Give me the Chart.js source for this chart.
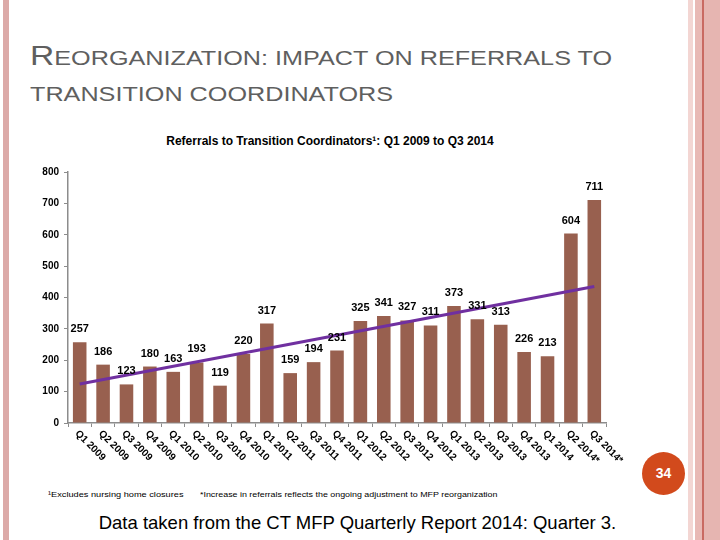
<!DOCTYPE html>
<html>
<head>
<meta charset="utf-8">
<script src="https://cdn.jsdelivr.net/npm/chart.js@4.4.1/dist/chart.umd.min.js"></script>
<style>
  html, body { margin: 0; padding: 0; background: #fff; }
  body { width: 720px; height: 540px; position: relative; overflow: hidden; font-family: "Liberation Sans", Arial, sans-serif; }
  .stripe { position: absolute; top: 0; height: 540px; }
  .tline { position: absolute; left: 30px; color: #5f5f5f; font-size: 21px; white-space: nowrap; transform-origin: left bottom; transform: scaleX(1.2); }
  .tline .big { font-size: 28px; }
  #chartTitle { position: absolute; left: 0; width: 660px; top: 134px; text-align: center; font-weight: bold; font-size: 12px; color: #000; }
  #chartBox { position: absolute; left: 0; top: 125px; width: 720px; height: 350px; }
  .note { position: absolute; top: 490px; font-size: 8px; color: #000; white-space: nowrap; transform-origin: left top; }
  #source { position: absolute; left: 0; width: 715px; top: 512px; text-align: center; font-size: 18.5px; color: #000; }
  #pageNum { position: absolute; left: 642px; top: 452px; width: 43px; height: 43px; border-radius: 50%; background: #d24a1c; color: #fff; font-weight: bold; font-size: 14px; text-align: center; line-height: 43px; }
</style>
</head>
<body>
<div class="stripe" style="left:3px;width:6px;background:#dcaaa8"></div>
<div class="stripe" style="left:688px;width:5px;background:#f3d6d3"></div>
<div class="stripe" style="left:695px;width:7px;background:#e8b9b5"></div>
<div class="stripe" style="left:702px;width:2px;background:#c96a62"></div>
<div class="stripe" style="left:704px;width:16px;background:#e6b5b1"></div>

<div class="tline" style="top:40px"><span class="big">R</span>EORGANIZATION: IMPACT ON REFERRALS TO</div>
<div class="tline" style="top:82px">TRANSITION COORDINATORS</div>
<div id="chartTitle">Referrals to Transition Coordinators¹: Q1 2009 to Q3 2014</div>
<div id="chartBox"><canvas id="chart" width="720" height="350"></canvas></div>
<div class="note" style="left:48px;transform:scaleX(1.15)">¹Excludes nursing home closures</div>
<div class="note" style="left:200px;transform:scaleX(1.11)">*Increase in referrals reflects the ongoing adjustment to MFP reorganization</div>
<div id="source">Data taken from the CT MFP Quarterly Report 2014: Quarter 3.</div>
<div id="pageNum">34</div>

<script>
const quarters = [
  "Q1 2009", "Q2 2009", "Q3 2009", "Q4 2009",
  "Q1 2010", "Q2 2010", "Q3 2010", "Q4 2010",
  "Q1 2011", "Q2 2011", "Q3 2011", "Q4 2011",
  "Q1 2012", "Q2 2012", "Q3 2012", "Q4 2012",
  "Q1 2013", "Q2 2013", "Q3 2013", "Q4 2013",
  "Q1 2014", "Q2 2014*", "Q3 2014*"
];
const referrals = [
  257, 186, 123, 180,
  163, 193, 119, 220,
  317, 159, 194, 231,
  325, 341, 327, 311,
  373, 331, 313, 226,
  213, 604, 711
];
// trend line end points
const trendStart = 124;
const trendEnd = 435;
const yTicks = [0, 100, 200, 300, 400, 500, 600, 700, 800];

const trend = quarters.map(function (q, i) {
  if (i === 0) return trendStart;
  if (i === quarters.length - 1) return trendEnd;
  return null;
});

const extraLabels = {
  id: "extraLabels",
  afterDatasetsDraw: function (chart) {
    const ctx = chart.ctx;
    const meta = chart.getDatasetMeta(0);
    ctx.save();
    ctx.fillStyle = "#000";
    ctx.font = "bold 11px 'Liberation Sans', Arial, sans-serif";
    ctx.textAlign = "center";
    ctx.textBaseline = "middle";
    meta.data.forEach(function (bar, i) {
      ctx.fillText(String(referrals[i]), bar.x, bar.y - 13);
    });
    ctx.restore();
  },
  afterDraw: function (chart) {
    const ctx = chart.ctx;
    const xs = chart.scales.x;
    ctx.save();
    ctx.fillStyle = "#000";
    ctx.font = "bold 10px 'Liberation Sans', Arial, sans-serif";
    ctx.textAlign = "left";
    ctx.textBaseline = "middle";
    quarters.forEach(function (q, i) {
      const x = xs.getPixelForValue(i);
      ctx.save();
      ctx.translate(x - 3, chart.chartArea.bottom + 9);
      ctx.rotate(Math.PI / 4);
      ctx.fillText(q, 0, 0);
      ctx.restore();
    });
    ctx.restore();
  }
};

new Chart(document.getElementById("chart"), {
  type: "bar",
  data: {
    labels: quarters,
    datasets: [
      {
        label: "Referrals",
        data: referrals,
        backgroundColor: "#98604f",
        categoryPercentage: 1,
        barPercentage: 0.58,
        order: 2
      },
      {
        type: "line",
        label: "Trend",
        data: trend,
        spanGaps: true,
        borderColor: "#7030a0",
        borderWidth: 3,
        pointRadius: 0,
        fill: false,
        order: 1
      }
    ]
  },
  options: {
    responsive: false,
    animation: false,
    layout: { padding: { left: 0, top: 47, right: 114, bottom: 0 } },
    plugins: {
      legend: { display: false },
      title: { display: false },
      tooltip: { enabled: false }
    },
    scales: {
      x: {
        grid: { drawOnChartArea: false, drawTicks: true, tickLength: 4, color: "#8c8c8c", offset: true },
        border: { display: true, color: "#8c8c8c", width: 1.5 },
        ticks: { display: false },
        afterFit: function (scale) { scale.height = 52; }
      },
      y: {
        min: 0,
        max: 800,
        afterBuildTicks: function (scale) {
          scale.ticks = yTicks.map(function (v) { return { value: v }; });
        },
        grid: { drawOnChartArea: false, drawTicks: true, tickLength: 4, color: "#8c8c8c" },
        border: { display: true, color: "#8c8c8c", width: 1.5 },
        ticks: {
          color: "#000",
          padding: 5,
          font: { family: "'Liberation Sans', Arial, sans-serif", size: 10, weight: "bold" }
        },
        afterFit: function (scale) { scale.width = 68; }
      }
    }
  },
  plugins: [extraLabels]
});
</script>
</body>
</html>
